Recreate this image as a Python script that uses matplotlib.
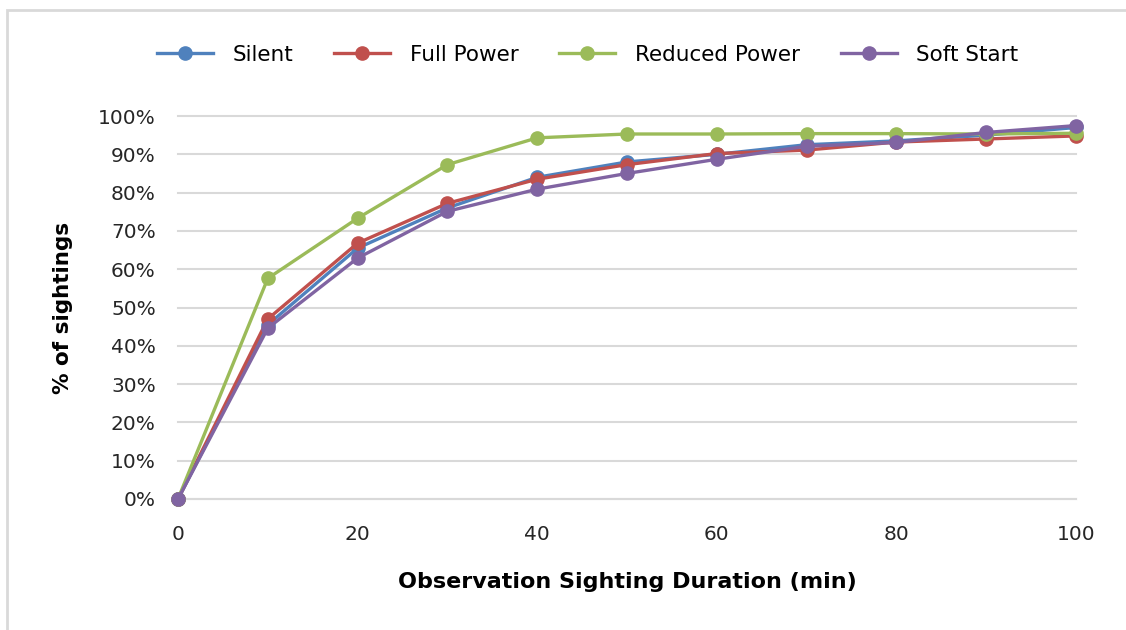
#!/usr/bin/env python

# cumulative % of sightings vs observation duration, one line per source condition

from matplotlib import pyplot as plt
from matplotlib.patches import Rectangle
from matplotlib.ticker import PercentFormatter, MultipleLocator

duration = [0, 10, 20, 30, 40, 50, 60, 70, 80, 90, 100]

silent = [0, 45.5, 65.5, 76.0, 84.0, 88.0, 90.0, 92.5, 93.5, 95.0, 97.0]
full_power = [0, 47.0, 66.8, 77.2, 83.5, 87.3, 90.2, 91.1, 93.2, 94.0, 94.8]
reduced_power = [0, 57.6, 73.3, 87.3, 94.3, 95.3, 95.3, 95.4, 95.4, 95.3, 95.5]
soft_start = [0, 44.6, 62.9, 75.1, 80.9, 85.0, 88.7, 92.1, 93.1, 95.7, 97.5]

series = [
    ('Silent', silent, '#4F81BD'),
    ('Full Power', full_power, '#C0504D'),
    ('Reduced Power', reduced_power, '#9BBB59'),
    ('Soft Start', soft_start, '#8064A2'),
]

plt.rcParams['font.family'] = ['DejaVu Sans']

fig = plt.figure(figsize=(11.26, 6.3), dpi=100)
ax = fig.add_axes([178 / 1126, 1 - 499 / 630, (1076 - 178) / 1126, (499 - 116) / 630])

# light grey chart border like the excel chart area
fig.patches.append(Rectangle((7 / 1126, -0.05), 1.1, 1 - 10 / 630 + 0.05,
                             transform=fig.transFigure, fill=False,
                             edgecolor='#d9d9d9', linewidth=2))

for name, vals, col in series:
    ax.plot(duration, vals, color=col, linewidth=2.4, marker='o', markersize=9.5,
            label=name, clip_on=False, zorder=3)

ax.set_xlim(0, 100)
ax.set_ylim(0, 100)
ax.xaxis.set_major_locator(MultipleLocator(20))
ax.yaxis.set_major_locator(MultipleLocator(10))
ax.yaxis.set_major_formatter(PercentFormatter(decimals=0))
ax.grid(axis='y', color='#d9d9d9', linewidth=1.5)
for gl in ax.get_ygridlines():
    gl.set_clip_on(False)
ax.set_axisbelow(True)
for s in ['top', 'right', 'left']:
    ax.spines[s].set_visible(False)
ax.spines['bottom'].set_color('#d9d9d9')
ax.spines['bottom'].set_linewidth(1.5)
ax.tick_params(length=0, labelsize=14.5, colors='#262626')
ax.tick_params(axis='x', pad=19)
ax.tick_params(axis='y', pad=16)

ax.set_xlabel('Observation Sighting Duration (min)', fontsize=16, fontweight='bold', labelpad=20)
ax.set_ylabel('% of sightings', fontsize=15.5, fontweight='bold', labelpad=18)

fig.legend(loc='center', bbox_to_anchor=(0.522, 1 - 55 / 630), ncol=4, frameon=False,
           fontsize=15.5, handlelength=2.6, columnspacing=1.9, handletextpad=0.9)

plt.savefig('out.png', dpi=100)
